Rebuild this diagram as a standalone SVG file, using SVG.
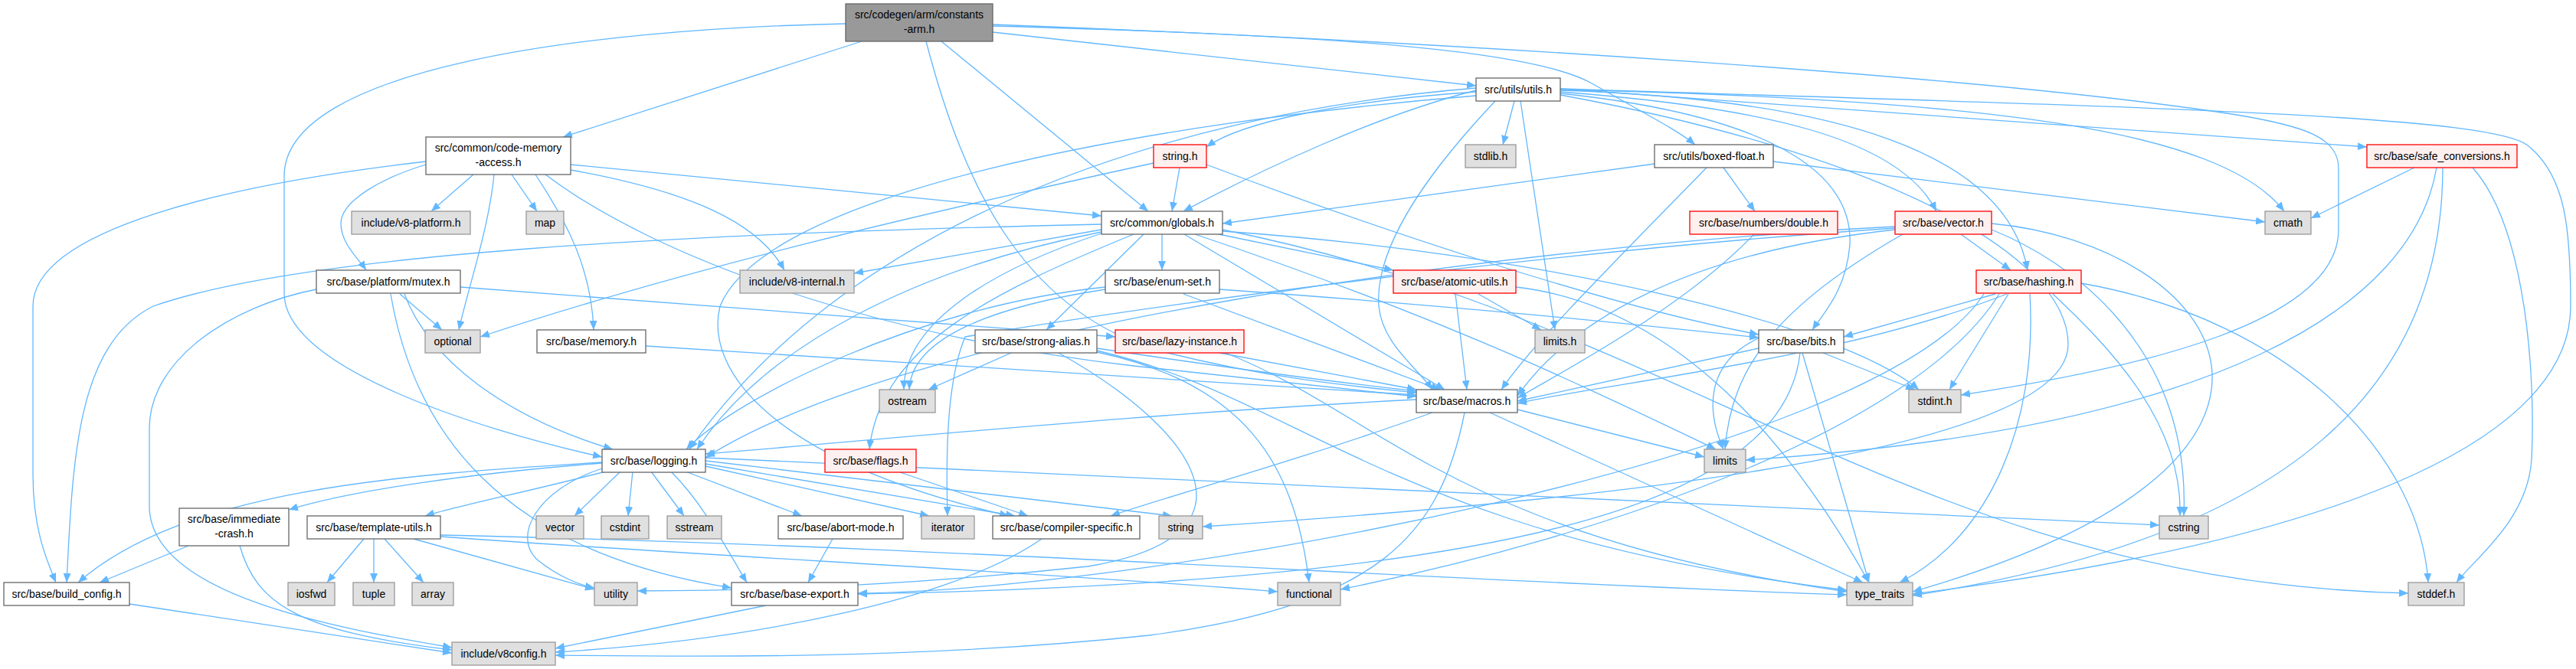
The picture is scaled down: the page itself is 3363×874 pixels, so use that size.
<svg xmlns="http://www.w3.org/2000/svg" width="3363" height="874" viewBox="0 0 3363 874">
<style>
.e{fill:none;stroke:#63b8ff;stroke-width:1.3;marker-end:url(#a)}
.n rect{fill:#ffffff;stroke:#666666;stroke-width:1.3}
.g rect{fill:#e0e0e0;stroke:#999999;stroke-width:1.3}
.r rect{fill:#fff0f0;stroke:#ff0000;stroke-width:1.3}
.root rect{fill:#999999;stroke:#666666;stroke-width:1.3}
text{font-family:"Liberation Sans",Arial,sans-serif;font-size:14px;fill:#000;text-anchor:middle}
</style>
<defs>
<marker id="a" viewBox="0 0 12 10" refX="12" refY="5" markerWidth="12" markerHeight="10" markerUnits="userSpaceOnUse" orient="auto">
<path d="M0,0 L12,5 L0,10 z" fill="#63b8ff"/>
</marker>
</defs>
<rect width="3363" height="874" fill="#ffffff"/>
<g id="edges">
<path class="e" d="M1125,54 L735,179"/>
<path class="e" d="M1104,31 C760,38 371,90 371,230 L371,383 C371,480 620,560 786,597"/>
<path class="e" d="M1209,54 C1260,250 1340,410 1520,460 C1660,495 1770,505 1849,513"/>
<path class="e" d="M1229,54 L1499,276"/>
<path class="e" d="M1296,42 L1927,112"/>
<path class="e" d="M1296,34 C1700,45 2000,62 2080,110 C2150,150 2190,170 2213,189"/>
<path class="e" d="M1296,32 C1900,55 2600,100 2920,150 C3010,165 3053,180 3053,220 L3053,300 C3053,420 2800,480 2560,516"/>
<path class="e" d="M618,228 L563,276"/>
<path class="e" d="M668,228 L701,276"/>
<path class="e" d="M645,228 C638,300 610,380 599,431"/>
<path class="e" d="M556,215 C500,232 445,262 445,292 C445,318 468,338 478,353"/>
<path class="e" d="M699,228 C740,290 772,350 775,431"/>
<path class="e" d="M745,222 C900,250 990,290 1024,353"/>
<path class="e" d="M745,215 L1438,282"/>
<path class="e" d="M556,211 C300,240 43,300 43,400 L43,620 C43,690 60,730 73,761"/>
<path class="e" d="M712,228 C860,340 1150,440 1480,478 C1640,496 1760,508 1849,518"/>
<path class="e" d="M522,384 L577,431"/>
<path class="e" d="M528,384 C560,470 660,545 800,587"/>
<path class="e" d="M510,384 C540,560 650,720 955,768"/>
<path class="e" d="M413,378 C300,400 195,470 195,560 L195,661 C195,780 450,822 590,846"/>
<path class="e" d="M601,375 L1456,440"/>
<path class="e" d="M843,452 L1849,516"/>
<path class="e" d="M786,605 C620,618 460,640 377,666"/>
<path class="e" d="M790,616 C700,640 600,660 555,674"/>
<path class="e" d="M810,616 L750,674"/>
<path class="e" d="M826,616 L820,674"/>
<path class="e" d="M850,616 L893,674"/>
<path class="e" d="M895,616 L1047,674"/>
<path class="e" d="M921,609 L1213,674"/>
<path class="e" d="M921,606 L1325,674"/>
<path class="e" d="M921,602 L1530,674"/>
<path class="e" d="M921,598 L2819,686"/>
<path class="e" d="M876,616 C920,660 950,720 975,761"/>
<path class="e" d="M786,612 C700,640 670,700 700,730 C730,755 760,765 776,768"/>
<path class="e" d="M786,604 C520,620 240,640 102,761"/>
<path class="e" d="M475,704 L427,761"/>
<path class="e" d="M488,704 L488,761"/>
<path class="e" d="M502,704 L553,761"/>
<path class="e" d="M540,704 L776,770"/>
<path class="e" d="M575,701 C900,725 1400,750 1668,773"/>
<path class="e" d="M575,699 C1200,712 1900,760 2411,777"/>
<path class="e" d="M246,713 L130,761"/>
<path class="e" d="M313,713 C335,790 390,825 590,849"/>
<path class="e" d="M169,789 L590,853"/>
<path class="e" d="M1000,791 L725,847"/>
<path class="e" d="M1087,704 L1055,761"/>
<path class="e" d="M1360,704 C1250,780 1000,835 725,852"/>
<path class="e" d="M1849,522 C1500,540 1200,570 921,593"/>
<path class="e" d="M1870,539 C1700,600 1520,650 1450,674"/>
<path class="e" d="M1981,535 L2225,597"/>
<path class="e" d="M1945,539 L2432,761"/>
<path class="e" d="M1912,539 C1880,700 1800,790 1500,830 C1200,862 900,858 725,856"/>
<path class="e" d="M1320,461 L1212,509"/>
<path class="e" d="M1432,455 C1600,480 1750,500 1849,511"/>
<path class="e" d="M1432,460 C1620,500 1690,600 1709,761"/>
<path class="e" d="M1432,458 C1700,520 1820,700 2411,771"/>
<path class="e" d="M1382,461 C1560,560 1660,700 1420,740 C1120,772 900,772 832,772"/>
<path class="e" d="M1592,461 L1849,509"/>
<path class="e" d="M1600,461 C1800,540 1900,700 2411,773"/>
<path class="e" d="M1175,617 L1342,674"/>
<path class="e" d="M1443,378 C1300,400 1190,440 1187,509"/>
<path class="e" d="M1545,384 L1880,509"/>
<path class="e" d="M1592,378 C1900,400 2100,420 2296,441"/>
<path class="e" d="M1443,375 C1200,400 960,520 896,587"/>
<path class="e" d="M1517,306 L1517,353"/>
<path class="e" d="M1438,300 L1115,357"/>
<path class="e" d="M1438,293 C900,305 400,330 200,400 C100,450 95,600 87,761"/>
<path class="e" d="M1438,303 C1200,350 1000,450 910,587"/>
<path class="e" d="M1438,305 C1300,350 1180,420 1180,509"/>
<path class="e" d="M1480,306 C1300,380 1150,450 1135,587"/>
<path class="e" d="M1493,306 L1366,431"/>
<path class="e" d="M1591,306 L1819,353"/>
<path class="e" d="M1546,306 L1886,509"/>
<path class="e" d="M1560,306 C1900,420 2100,520 2240,587"/>
<path class="e" d="M1596,300 C2200,420 2500,760 3144,775"/>
<path class="e" d="M1596,302 C2000,330 2400,420 2505,509"/>
<path class="e" d="M1977,132 L1962,189"/>
<path class="e" d="M1927,120 C1750,132 1620,160 1575,192"/>
<path class="e" d="M1927,118 C1800,150 1650,220 1545,276"/>
<path class="e" d="M1927,115 C1500,150 1100,300 900,587"/>
<path class="e" d="M1927,125 C1500,160 1000,250 940,400 C920,480 1000,600 1317,674"/>
<path class="e" d="M1985,132 L2030,431"/>
<path class="e" d="M1952,132 C1850,240 1795,330 1800,400 C1805,450 1850,480 1870,509"/>
<path class="e" d="M2037,122 C2300,150 2420,220 2415,320 C2410,380 2380,410 2366,431"/>
<path class="e" d="M2037,120 C2300,140 2480,180 2528,276"/>
<path class="e" d="M2037,118 C2400,130 2620,200 2647,353"/>
<path class="e" d="M2037,116 L3090,192"/>
<path class="e" d="M2037,117 C2600,130 2900,170 2982,276"/>
<path class="e" d="M2037,116 C2800,140 3250,150 3300,190 C3350,230 3356,300 3356,400 C3356,560 3100,700 2497,776"/>
<path class="e" d="M2037,124 C2450,200 2700,330 2700,450 C2700,600 2000,660 1570,688"/>
<path class="e" d="M2160,214 L1596,292"/>
<path class="e" d="M2228,219 C2100,350 2000,450 1960,509"/>
<path class="e" d="M2250,219 L2291,276"/>
<path class="e" d="M2315,211 L2957,290"/>
<path class="e" d="M2290,306 C2200,400 2050,480 1981,520"/>
<path class="e" d="M2560,306 L2625,353"/>
<path class="e" d="M2474,300 C2200,330 2050,420 1981,517"/>
<path class="e" d="M2474,296 C2000,320 1200,420 921,598"/>
<path class="e" d="M2600,292 C2900,320 3100,600 2497,773"/>
<path class="e" d="M2600,300 C2700,340 2860,450 2851,674"/>
<path class="e" d="M2484,306 C2320,400 2260,480 2252,587"/>
<path class="e" d="M2474,298 C2000,330 1500,400 1260,440 C1235,500 1235,600 1237,674"/>
<path class="e" d="M2605,384 L2407,440"/>
<path class="e" d="M2620,384 C2400,470 2100,500 1981,527"/>
<path class="e" d="M2622,384 L2545,509"/>
<path class="e" d="M2680,384 C2750,450 2850,550 2846,674"/>
<path class="e" d="M2610,384 C2500,560 2100,700 1750,770"/>
<path class="e" d="M2650,384 C2660,550 2600,700 2480,761"/>
<path class="e" d="M2717,370 C3000,420 3160,600 3170,761"/>
<path class="e" d="M2590,384 C2450,600 1500,770 1120,775"/>
<path class="e" d="M3152,219 L3017,285"/>
<path class="e" d="M3181,219 C3150,400 2900,560 2279,601"/>
<path class="e" d="M3228,219 C3300,300 3310,500 3305,600 C3300,680 3230,730 3207,761"/>
<path class="e" d="M3189,219 C3189,500 3000,700 2497,778"/>
<path class="e" d="M1930,384 L2012,431"/>
<path class="e" d="M1900,384 L1915,509"/>
<path class="e" d="M1979,375 C2200,400 2350,600 2440,761"/>
<path class="e" d="M2296,455 L1981,524"/>
<path class="e" d="M2300,440 C2230,470 2225,530 2250,587"/>
<path class="e" d="M2380,461 L2500,509"/>
<path class="e" d="M2353,461 L2440,761"/>
<path class="e" d="M2350,461 C2330,650 2000,760 1120,776"/>
<path class="e" d="M1540,219 L1530,276"/>
<path class="e" d="M1506,213 C1200,280 900,350 627,440"/>
<path class="e" d="M1575,215 C1800,300 2100,400 2296,437"/>
</g>
<g id="ca" class="root"><rect x="1104" y="5" width="192" height="49"/><text x="1200" y="24">src/codegen/arm/constants</text><text x="1200" y="43">-arm.h</text></g>
<g id="cma" class="n"><rect x="556" y="179" width="189" height="49"/><text x="650.5" y="198">src/common/code-memory</text><text x="650.5" y="217">-access.h</text></g>
<g id="v8plat" class="g"><rect x="459" y="276" width="155" height="30"/><text x="536.5" y="296">include/v8-platform.h</text></g>
<g id="map" class="g"><rect x="687" y="276" width="49" height="30"/><text x="711.5" y="296">map</text></g>
<g id="mutex" class="n"><rect x="413" y="353" width="188" height="30"/><text x="507" y="373">src/base/platform/mutex.h</text></g>
<g id="optional" class="g"><rect x="555" y="431" width="72" height="30"/><text x="591" y="451">optional</text></g>
<g id="memory" class="n"><rect x="701" y="431" width="142" height="30"/><text x="772" y="451">src/base/memory.h</text></g>
<g id="logging" class="n"><rect x="786" y="587" width="135" height="30"/><text x="853.5" y="607">src/base/logging.h</text></g>
<g id="immcrash" class="n"><rect x="234" y="664" width="143" height="49"/><text x="305.5" y="683">src/base/immediate</text><text x="305.5" y="702">-crash.h</text></g>
<g id="tmpl" class="n"><rect x="401" y="674" width="174" height="30"/><text x="488" y="694">src/base/template-utils.h</text></g>
<g id="vector" class="g"><rect x="700" y="674" width="62" height="30"/><text x="731" y="694">vector</text></g>
<g id="cstdint" class="g"><rect x="785" y="674" width="62" height="30"/><text x="816" y="694">cstdint</text></g>
<g id="sstream" class="g"><rect x="871" y="674" width="71" height="30"/><text x="906.5" y="694">sstream</text></g>
<g id="abort" class="n"><rect x="1016" y="674" width="163" height="30"/><text x="1097.5" y="694">src/base/abort-mode.h</text></g>
<g id="iterator" class="g"><rect x="1203" y="674" width="69" height="30"/><text x="1237.5" y="694">iterator</text></g>
<g id="compspec" class="n"><rect x="1296" y="674" width="192" height="30"/><text x="1392" y="694">src/base/compiler-specific.h</text></g>
<g id="string" class="g"><rect x="1513" y="674" width="57" height="30"/><text x="1541.5" y="694">string</text></g>
<g id="buildcfg" class="n"><rect x="5" y="761" width="164" height="30"/><text x="87" y="781">src/base/build_config.h</text></g>
<g id="iosfwd" class="g"><rect x="376" y="761" width="61" height="30"/><text x="406.5" y="781">iosfwd</text></g>
<g id="tuple" class="g"><rect x="461" y="761" width="54" height="30"/><text x="488" y="781">tuple</text></g>
<g id="array" class="g"><rect x="538" y="761" width="54" height="30"/><text x="565" y="781">array</text></g>
<g id="utility" class="g"><rect x="776" y="761" width="56" height="30"/><text x="804" y="781">utility</text></g>
<g id="baseexp" class="n"><rect x="955" y="761" width="165" height="30"/><text x="1037.5" y="781">src/base/base-export.h</text></g>
<g id="functional" class="g"><rect x="1668" y="761" width="82" height="30"/><text x="1709" y="781">functional</text></g>
<g id="typetraits" class="g"><rect x="2411" y="761" width="86" height="30"/><text x="2454" y="781">type_traits</text></g>
<g id="stddef" class="g"><rect x="3144" y="761" width="73" height="30"/><text x="3180.5" y="781">stddef.h</text></g>
<g id="v8config" class="g"><rect x="590" y="839" width="135" height="30"/><text x="657.5" y="859">include/v8config.h</text></g>
<g id="stringh" class="r"><rect x="1506" y="189" width="69" height="30"/><text x="1540.5" y="209">string.h</text></g>
<g id="globals" class="n"><rect x="1438" y="276" width="158" height="30"/><text x="1517" y="296">src/common/globals.h</text></g>
<g id="v8int" class="g"><rect x="966" y="353" width="149" height="30"/><text x="1040.5" y="373">include/v8-internal.h</text></g>
<g id="enumset" class="n"><rect x="1443" y="353" width="149" height="30"/><text x="1517.5" y="373">src/base/enum-set.h</text></g>
<g id="strongalias" class="n"><rect x="1273" y="431" width="159" height="30"/><text x="1352.5" y="451">src/base/strong-alias.h</text></g>
<g id="lazy" class="r"><rect x="1456" y="431" width="168" height="30"/><text x="1540" y="451">src/base/lazy-instance.h</text></g>
<g id="ostream" class="g"><rect x="1148" y="509" width="73" height="30"/><text x="1184.5" y="529">ostream</text></g>
<g id="flags" class="r"><rect x="1077" y="587" width="119" height="30"/><text x="1136.5" y="607">src/base/flags.h</text></g>
<g id="utils" class="n"><rect x="1927" y="102" width="110" height="30"/><text x="1982" y="122">src/utils/utils.h</text></g>
<g id="stdlib" class="g"><rect x="1913" y="189" width="66" height="30"/><text x="1946" y="209">stdlib.h</text></g>
<g id="boxed" class="n"><rect x="2160" y="189" width="155" height="30"/><text x="2237.5" y="209">src/utils/boxed-float.h</text></g>
<g id="double" class="r"><rect x="2206" y="276" width="193" height="30"/><text x="2302.5" y="296">src/base/numbers/double.h</text></g>
<g id="vectorh" class="r"><rect x="2474" y="276" width="126" height="30"/><text x="2537" y="296">src/base/vector.h</text></g>
<g id="atomic" class="r"><rect x="1819" y="353" width="160" height="30"/><text x="1899" y="373">src/base/atomic-utils.h</text></g>
<g id="limitsh" class="g"><rect x="2004" y="431" width="65" height="30"/><text x="2036.5" y="451">limits.h</text></g>
<g id="bits" class="n"><rect x="2296" y="431" width="111" height="30"/><text x="2351.5" y="451">src/base/bits.h</text></g>
<g id="safe" class="r"><rect x="3090" y="189" width="196" height="30"/><text x="3188" y="209">src/base/safe_conversions.h</text></g>
<g id="cmath" class="g"><rect x="2957" y="276" width="60" height="30"/><text x="2987" y="296">cmath</text></g>
<g id="hashing" class="r"><rect x="2580" y="353" width="137" height="30"/><text x="2648.5" y="373">src/base/hashing.h</text></g>
<g id="macros" class="n"><rect x="1849" y="509" width="132" height="30"/><text x="1915" y="529">src/base/macros.h</text></g>
<g id="limits" class="g"><rect x="2225" y="587" width="54" height="30"/><text x="2252" y="607">limits</text></g>
<g id="stdint" class="g"><rect x="2492" y="509" width="68" height="30"/><text x="2526" y="529">stdint.h</text></g>
<g id="cstring" class="g"><rect x="2819" y="674" width="64" height="30"/><text x="2851" y="694">cstring</text></g>
</svg>
